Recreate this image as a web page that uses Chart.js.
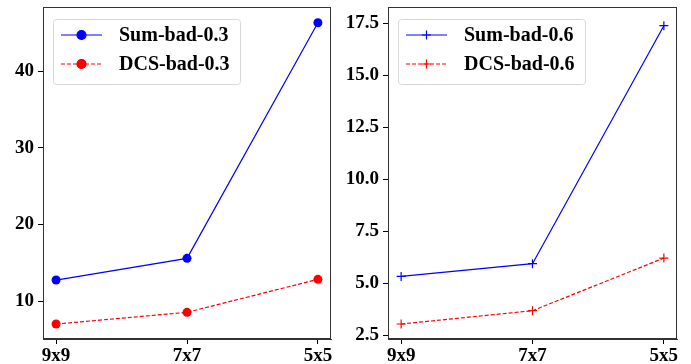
<!DOCTYPE html>
<html>
<head>
<meta charset="utf-8">
<script src="https://cdn.jsdelivr.net/npm/chart.js@4"></script>
<style>
  html, body { margin: 0; padding: 0; background: #fff; }
  .panel { position: absolute; top: 0; height: 364px; }
  #left { left: 0; width: 345px; }
  #right { left: 345px; width: 346px; }
</style>
</head>
<body>
<div class="panel" id="left"><canvas id="chartLeft" width="345" height="364"></canvas></div>
<div class="panel" id="right"><canvas id="chartRight" width="346" height="364"></canvas></div>
<script>
// categories on the x axis
const sizes = ["9x9", "7x7", "5x5"];

// left panel (bad = 0.3)
const sumBad03 = [12.74, 15.57, 46.3];
const dcsBad03 = [7.0, 8.53, 12.83];
const leftTicks = [10, 20, 30, 40];

// right panel (bad = 0.6)
const sumBad06 = [5.32, 5.93, 17.37];
const dcsBad06 = [3.03, 3.67, 6.2];
const rightTicks = [2.5, 5.0, 7.5, 10.0, 12.5, 15.0, 17.5];

const FONT = "'Liberation Serif', 'Times New Roman', serif";

function toPoints(values) {
    return values.map((v, i) => ({ x: i, y: v }));
}

// frame around the plot area (matplotlib style spines)
const framePlugin = {
    id: 'frame',
    afterDatasetsDraw(chart) {
        const a = chart.chartArea;
        const ctx = chart.ctx;
        ctx.save();
        ctx.strokeStyle = '#333';
        ctx.lineWidth = 1;
        ctx.strokeRect(a.left + 0.5, a.top + 0.5, a.right - a.left - 1, a.bottom - a.top - 1);
        ctx.restore();
    }
};

// legend drawn inside the plot area, upper left
const boxLegend = {
    id: 'boxLegend',
    afterDraw(chart) {
        const a = chart.chartArea;
        const ctx = chart.ctx;
        const x = a.left + 10, y = a.top + 12, w = 187, h = 65;
        ctx.save();
        ctx.fillStyle = 'rgba(255,255,255,0.8)';
        ctx.strokeStyle = '#d8d8d8';
        ctx.lineWidth = 1;
        ctx.beginPath();
        ctx.roundRect(x + 0.5, y + 0.5, w, h, 3);
        ctx.fill();
        ctx.stroke();

        chart.data.datasets.forEach((ds, i) => {
            const rowY = y + 16 + i * 29;
            ctx.strokeStyle = ds.borderColor;
            ctx.lineWidth = ds.borderWidth;
            ctx.setLineDash(ds.borderDash || []);
            ctx.beginPath();
            ctx.moveTo(x + 8, rowY);
            ctx.lineTo(x + 49, rowY);
            ctx.stroke();
            ctx.setLineDash([]);
            Chart.helpers.drawPoint(ctx, {
                pointStyle: ds.pointStyle,
                radius: ds.pointRadius,
                borderWidth: ds.pointBorderWidth || 1
            }, x + 28.5, rowY);
            if (ds.pointStyle === 'circle') {
                ctx.fillStyle = ds.pointBackgroundColor;
                ctx.beginPath();
                ctx.arc(x + 28.5, rowY, ds.pointRadius, 0, Math.PI * 2);
                ctx.fill();
            }
            ctx.fillStyle = '#000';
            ctx.font = 'bold 20px ' + FONT;
            ctx.textBaseline = 'middle';
            ctx.fillText(ds.label, x + 66, rowY + 1);
        });
        ctx.restore();
    }
};

function makeChart(canvasId, sumVals, dcsVals, sumLabel, dcsLabel, marker, yMin, yMax, yTicks, yFormat) {
    const markerOpts = marker === 'circle'
        ? { pointStyle: 'circle', pointRadius: 4.5, pointBorderWidth: 0 }
        : { pointStyle: 'cross', pointRadius: 4.5, pointBorderWidth: 1.2 };

    return new Chart(document.getElementById(canvasId).getContext('2d'), {
        type: 'line',
        data: {
            datasets: [
                Object.assign({
                    label: sumLabel,
                    data: toPoints(sumVals),
                    borderColor: '#0000ff',
                    backgroundColor: '#0000ff',
                    pointBackgroundColor: '#0000ff',
                    pointBorderColor: '#0000ff',
                    borderWidth: 1.2,
                    fill: false,
                    tension: 0
                }, markerOpts),
                Object.assign({
                    label: dcsLabel,
                    data: toPoints(dcsVals),
                    borderColor: '#ff0000',
                    backgroundColor: '#ff0000',
                    pointBackgroundColor: '#ff0000',
                    pointBorderColor: '#ff0000',
                    borderWidth: 1.2,
                    borderDash: [4, 2],
                    fill: false,
                    tension: 0
                }, markerOpts)
            ]
        },
        options: {
            responsive: false,
            animation: false,
            clip: false,
            layout: { padding: { top: 7, right: 14, left: 0, bottom: 0 } },
            plugins: { legend: { display: false }, tooltip: { enabled: false } },
            scales: {
                x: {
                    type: 'linear',
                    min: -0.1,
                    max: 2.1,
                    afterBuildTicks: s => { s.ticks = sizes.map((_, i) => ({ value: i })); },
                    afterFit: s => { s.height = 25; s.paddingLeft = 0; s.paddingRight = 0; },
                    grid: { drawOnChartArea: false, drawTicks: true, tickLength: 5, color: '#000' },
                    border: { color: '#333' },
                    ticks: {
                        callback: v => sizes[v],
                        color: '#000',
                        padding: 1,
                        maxRotation: 0,
                        font: { family: FONT, size: 19, weight: 'bold' }
                    }
                },
                y: {
                    min: yMin,
                    max: yMax,
                    afterBuildTicks: s => { s.ticks = yTicks.map(v => ({ value: v })); },
                    afterFit: s => { s.width = 43; s.paddingTop = 0; s.paddingBottom = 0; },
                    grid: { drawOnChartArea: false, drawTicks: true, tickLength: 5, color: '#000' },
                    border: { color: '#333' },
                    ticks: {
                        callback: yFormat,
                        color: '#000',
                        padding: 4,
                        font: { family: FONT, size: 19, weight: 'bold' }
                    }
                }
            }
        },
        plugins: [framePlugin, boxLegend]
    });
}

makeChart('chartLeft', sumBad03, dcsBad03, 'Sum-bad-0.3', 'DCS-bad-0.3', 'circle',
    5.05, 48.35, leftTicks, v => String(v));
makeChart('chartRight', sumBad06, dcsBad06, 'Sum-bad-0.6', 'DCS-bad-0.6', 'cross',
    2.31, 18.27, rightTicks, v => v.toFixed(1));
</script>
</body>
</html>
